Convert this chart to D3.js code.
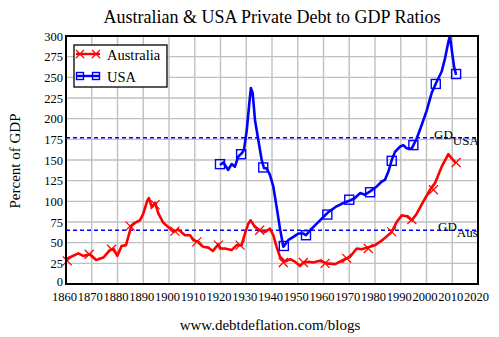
<!DOCTYPE html>
<html><head><meta charset="utf-8">
<script src="https://cdn.jsdelivr.net/npm/d3@7"></script>
<style>body{margin:0;background:#fff}svg{display:block}svg text{font-family:"Liberation Serif","Times New Roman","DejaVu Serif",serif !important;fill:#000}</style>
</head><body><svg id="c" width="499" height="337" font-family="Liberation Serif"></svg>
<script>
const ausYears=[1860,1862,1864.8,1866.7,1869.3,1871.7,1874.5,1877,1878.6,1879.9,1881.6,1883.3,1884.9,1885.5,1887.4,1888.7,1890,1891.6,1892.2,1893.3,1894.6,1895.9,1897.8,1899.7,1901.7,1903.6,1906.2,1908.2,1909.4,1911.4,1913.3,1915.3,1917,1919.2,1919.8,1921.7,1924.3,1926.3,1928.2,1929.5,1930.8,1931.7,1933.4,1935.3,1937.3,1939.2,1940.5,1941.8,1943.1,1945,1947,1948.9,1950.9,1952.2,1954.1,1956,1958.6,1961.2,1964.5,1967.7,1970.3,1972.9,1974.8,1976.8,1978.1,1980,1981.9,1983.2,1986.5,1988.4,1990.4,1992.3,1994.3,1996.2,1998.8,2001.4,2003.3,2005.9,2008.5,2009.8,2011.5];
const ausValues=[30,33,37,34,36,29,32,41,42,34,46,47,65,71,75,77,85,101,104,93,98,85,74,69,63,66,59,59,53,51,45,44,40,48,43,43,41,47,47,61,73,77,69,65,63,67,59,45,33,27,30,27,22,26,27,26,28,25,24,29,33,43,42,44,45,47,51,54,63,75,83,82,77,85,100,114,122,142,157,152,146];
const usaYears=[1919.8,1921.1,1923,1924.3,1925.6,1926.9,1928.2,1929.1,1930.2,1931.2,1931.8,1932.5,1933.4,1934.7,1936,1936.9,1937.9,1939.2,1940.5,1941.8,1943.1,1944.4,1946.3,1948.3,1950.2,1952.2,1953.2,1954.8,1957.4,1959.9,1961.9,1965.1,1967.7,1970.3,1972.2,1974.2,1976.1,1978.1,1980.7,1982.6,1983.9,1985.2,1986.5,1987.8,1989.7,1991,1992.3,1994.3,1996.2,1998.1,2000.1,2002,2004,2005.9,2007.2,2008.5,2009.1,2010,2010.7,2011.5];
const usaValues=[144,147,138,145,142,154,158,162,186,219,237,231,198,174,150,140,140,132,118,93,67,45,53,57,61,61,59,65,73,81,87,94,98,101,104,110,108,112,118,124,126,136,150,160,166,168,164,164,176,192,210,231,245,257,273,293,300,279,263,253];
const ausMarkerYears=[1860.5,1869,1877.7,1884.9,1894.6,1902.3,1910.8,1919.2,1927.6,1935.2,1944.4,1952.2,1960.6,1969,1977.4,1986.5,1994.3,2002.7,2011.5];
const ausMarkerValues=[28,36,42,70,96,64,51,47,47,65,26,26,25,31,43,63,78,114,147];
const usaMarkerYears=[1919.8,1928,1936.6,1944.6,1953.2,1961.5,1970,1978.1,1986.5,1994.9,2003.6,2011.5];
const usaMarkerValues=[145,157,141,46,59,84,102,111,149,168,242,254];
const ausAverage=65, usaAverage=177;
const xTicks=d3.range(1860,2021,10);
const yTicks=d3.range(0,301,25);
const title="Australian & USA Private Debt to GDP Ratios";
const yTitle="Percent of GDP";
const footer="www.debtdeflation.com/blogs";
const seriesNames=["Australia","USA"];

const FONT="Liberation Serif, Times New Roman, DejaVu Serif, serif";
const svg=d3.select("#c");
const L=66,R=478,T=36,B=284;
const x=d3.scaleLinear().domain([1860,2020]).range([L,R]);
const y=d3.scaleLinear().domain([0,300]).range([B,T]);
const RED="#ff0000", BLUE="#0000ff";

// grid
svg.append("g").selectAll("line").data(xTicks.slice(1,-1)).join("line")
  .attr("x1",d=>x(d)).attr("x2",d=>x(d)).attr("y1",T).attr("y2",B)
  .attr("stroke","#c0c0c0").attr("stroke-width",1.4);
svg.append("g").selectAll("line").data(yTicks.slice(1,-1)).join("line")
  .attr("y1",d=>y(d)).attr("y2",d=>y(d)).attr("x1",L).attr("x2",R)
  .attr("stroke","#c0c0c0").attr("stroke-width",1.4);

// axes labels via d3 axes
const xAxis=svg.append("g").attr("transform",`translate(0,${B})`)
  .call(d3.axisBottom(x).tickValues(xTicks).tickFormat(d3.format("d")).tickSize(0).tickPadding(8));
xAxis.attr("font-family",FONT).attr("font-size",12.5);
xAxis.select(".domain").remove();
xAxis.selectAll("text").attr("dx",-2);
const yAxis=svg.append("g").attr("transform",`translate(${L},0)`)
  .call(d3.axisLeft(y).tickValues(yTicks).tickSize(0).tickPadding(3));
yAxis.attr("font-family",FONT).attr("font-size",12.5);
yAxis.select(".domain").remove();
yAxis.selectAll(".tick").filter(d=>d===0).select("text").attr("y",-2.5);

svg.append("defs").append("clipPath").attr("id","clip").append("rect")
  .attr("x",L).attr("y",T-2).attr("width",R-L).attr("height",B-T+2);

// averages
const avg=[{v:usaAverage,sub:"USA",dx:434},{v:ausAverage,sub:"Aus",dx:438}];
svg.append("g").selectAll("line").data(avg).join("line")
  .attr("x1",L).attr("x2",R).attr("y1",d=>y(d.v)).attr("y2",d=>y(d.v))
  .attr("stroke",BLUE).attr("stroke-width",1.4).attr("stroke-dasharray","4,3");

const line=d3.line().x(d=>x(d[0])).y(d=>y(d[1]));
const aus=ausYears.map((d,i)=>[d,ausValues[i]]);
const usa=usaYears.map((d,i)=>[d,usaValues[i]]);
const g=svg.append("g").attr("clip-path","url(#clip)");
g.append("path").datum(aus).attr("d",line).attr("fill","none").attr("stroke",RED).attr("stroke-width",2.6).attr("stroke-linejoin","round");
g.append("path").datum(usa).attr("d",line).attr("fill","none").attr("stroke",BLUE).attr("stroke-width",2.6).attr("stroke-linejoin","round");

function xMark(sel,cx,cy,s){
  sel.append("path").attr("d",`M${cx-s},${cy-s}L${cx+s},${cy+s}M${cx-s},${cy+s}L${cx+s},${cy-s}`)
    .attr("stroke",RED).attr("stroke-width",1.2).attr("fill","none");
}
function sqMark(sel,cx,cy,s){
  sel.append("rect").attr("x",cx-s).attr("y",cy-s).attr("width",2*s).attr("height",2*s)
    .attr("stroke",BLUE).attr("stroke-width",1.4).attr("fill","none");
}
ausMarkerYears.forEach((d,i)=>xMark(svg,x(d),y(ausMarkerValues[i]),4.5));
usaMarkerYears.forEach((d,i)=>sqMark(svg,x(d),y(usaMarkerValues[i]),4.5));

// GD labels
avg.forEach(d=>{
  const t=svg.append("text").attr("x",d.dx).attr("y",y(d.v)+1).attr("font-size",13).attr("font-family",FONT);
  t.append("tspan").text("GD");
  t.append("tspan").attr("dy",6).text(d.sub);
});

// frame
svg.append("rect").attr("x",L).attr("y",T).attr("width",R-L).attr("height",B-T)
  .attr("fill","none").attr("stroke","#000").attr("stroke-width",2);

// legend
const lg=svg.append("g").attr("font-family",FONT);
lg.append("rect").attr("x",74).attr("y",45).attr("width",93).attr("height",42)
  .attr("fill","#fff").attr("stroke","#000").attr("stroke-width",1.3);
[[54,RED],[76,BLUE]].forEach(([ly,c],i)=>{
  lg.append("line").attr("x1",76).attr("x2",100).attr("y1",ly).attr("y2",ly).attr("stroke",c).attr("stroke-width",2.4);
  if(i===0){xMark(lg,80,ly,4);xMark(lg,96,ly,4);}
  else{sqMark(lg,80,ly,3.5);sqMark(lg,96,ly,3.5);}
  lg.append("text").attr("x",107).attr("y",ly+5.5).attr("font-size",14.5).text(seriesNames[i]);
});

// titles
svg.append("text").attr("x",(L+R)/2).attr("y",23).attr("text-anchor","middle").attr("font-size",18).attr("font-family",FONT).text(title);
svg.append("text").attr("transform","translate(20,161) rotate(-90)").attr("text-anchor","middle").attr("font-size",15).attr("font-family",FONT).text(yTitle);
svg.append("text").attr("x",270).attr("y",330).attr("text-anchor","middle").attr("font-size",15).attr("font-family",FONT).text(footer);
</script></body></html>
